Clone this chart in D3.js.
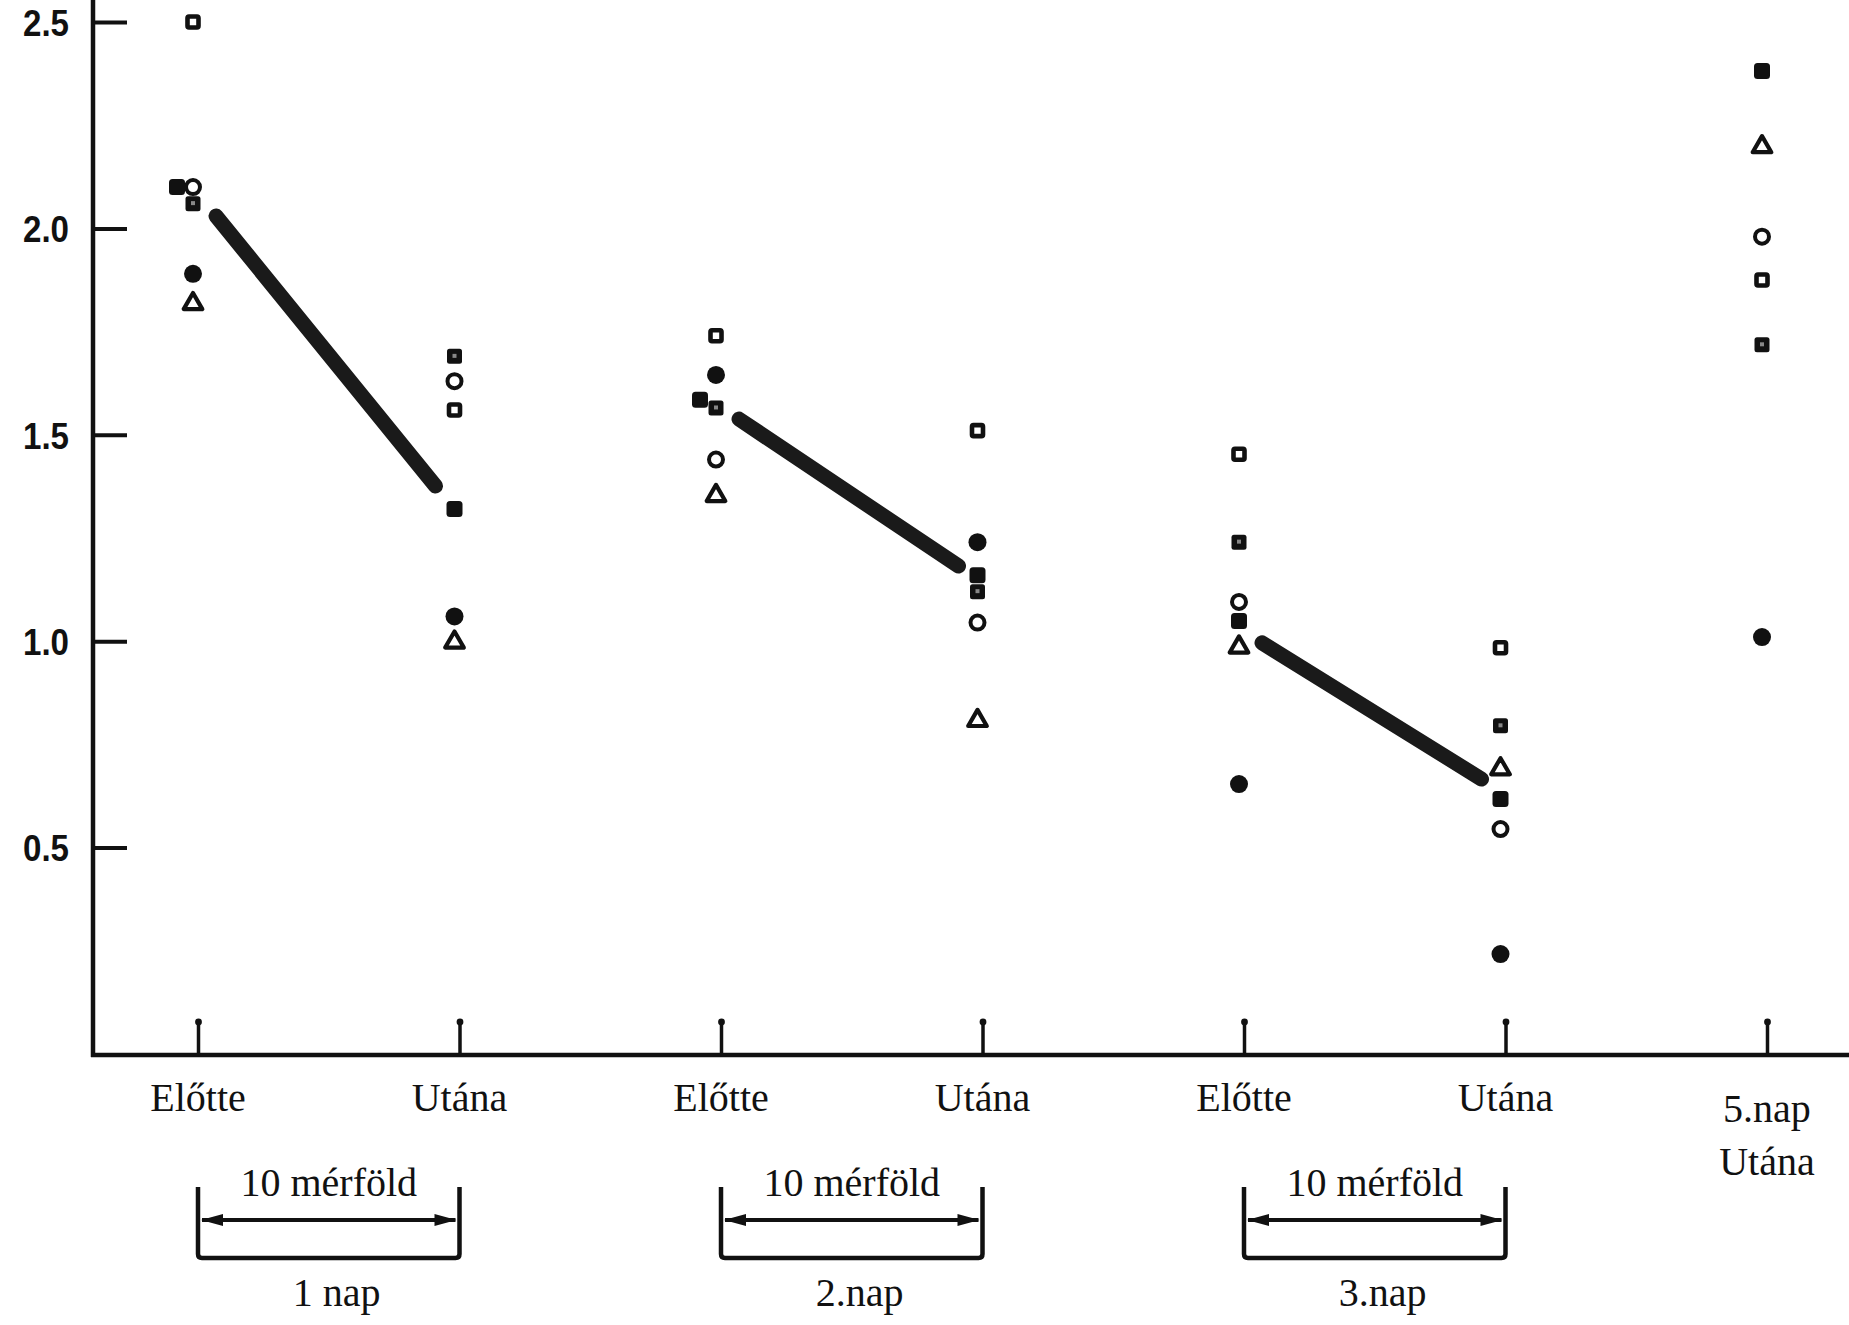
<!DOCTYPE html>
<html lang="hu">
<head>
  <meta charset="UTF-8">
  <title>Előtte / Utána – 10 mérföld</title>
  <style>
    body { margin: 0; background: #fff; }
    svg { display: block; }
    .ylab { font-family: 'Liberation Sans', Arial, sans-serif; font-weight: bold; font-size: 37px; fill: #111; }
    .xlab { font-family: 'Liberation Serif', 'Times New Roman', serif; font-size: 40px; fill: #111; }
  </style>
  <script src="https://d3js.org/d3.v7.min.js"></script>
</head>
<body>
  <svg></svg>
  <script>
    const width = 1849, height = 1325;

    // x categories and their labels
    const categories = ["pre1", "post1", "pre2", "post2", "pre3", "post3", "day5"];
    const tickLabels = [["Előtte"], ["Utána"], ["Előtte"], ["Utána"], ["Előtte"], ["Utána"], ["5.nap", "Utána"]];
    const yTicks = [0.5, 1.0, 1.5, 2.0, 2.5];

    // one array per subject (symbol), one value per category
    const filledCircle = [1.89, 1.06, 1.645, 1.24, 0.654, 0.242, 1.01];
    const openCircle   = [2.10, 1.63, 1.44, 1.045, 1.095, 0.545, 1.98];
    const openTriangle = [1.82, 1.00, 1.355, 0.81, 0.988, 0.693, 2.20];
    const openSquare   = [2.50, 1.56, 1.74, 1.51, 1.453, 0.984, 1.875];
    const dottedSquare = [2.06, 1.69, 1.565, 1.12, 1.24, 0.795, 1.718];
    const filledSquare = [2.10, 1.32, 1.585, 1.16, 1.049, 0.618, 2.381];

    // thick trend lines (before -> after) for each day
    const linePairs = [["pre1", "post1"], ["pre2", "post2"], ["pre3", "post3"]];
    const lineFrom = [2.03, 1.538, 0.996];
    const lineTo   = [1.376, 1.182, 0.666];

    // brackets under the axis
    const distanceLabel = "10 mérföld";
    const dayLabels = ["1 nap", "2.nap", "3.nap"];

    const series = [
      { kind: "filledCircle", values: filledCircle },
      { kind: "openCircle", values: openCircle },
      { kind: "openTriangle", values: openTriangle },
      { kind: "openSquare", values: openSquare },
      { kind: "dottedSquare", values: dottedSquare },
      { kind: "filledSquare", values: filledSquare }
    ];

    const ink = "#111";
    const svg = d3.select("svg").attr("width", width).attr("height", height);
    svg.append("rect").attr("width", width).attr("height", height).attr("fill", "#fff");

    const axisX = 93, axisY = 1055;
    const x = d3.scalePoint().domain(categories).range([198, 1767]);
    const y = d3.scaleLinear().domain([0, 2.5]).range([1054, 22]);

    // y axis
    const yAxis = svg.append("g")
      .attr("transform", `translate(${axisX},0)`)
      .call(d3.axisLeft(y).tickValues(yTicks).tickSize(-34).tickPadding(24).tickFormat(d3.format(".1f")));
    yAxis.select(".domain").remove();
    yAxis.selectAll(".tick line").attr("stroke", ink).attr("stroke-width", 4);
    yAxis.selectAll(".tick text").attr("class", "ylab").attr("dy", "0.36em")
      .attr("textLength", 46).attr("lengthAdjust", "spacingAndGlyphs");
    svg.append("line").attr("x1", axisX).attr("x2", axisX).attr("y1", 0).attr("y2", axisY + 2)
      .attr("stroke", ink).attr("stroke-width", 4.5);

    // x axis
    const xAxis = svg.append("g")
      .attr("transform", `translate(0,${axisY})`)
      .call(d3.axisBottom(x).tickSize(-33).tickFormat(""));
    xAxis.select(".domain").remove();
    xAxis.selectAll(".tick line").attr("stroke", ink).attr("stroke-width", 3.5);
    xAxis.selectAll(".tick").append("circle").attr("cy", -33).attr("r", 3.4).attr("fill", ink);
    svg.append("line").attr("x1", axisX - 2).attr("x2", width).attr("y1", axisY).attr("y2", axisY)
      .attr("stroke", ink).attr("stroke-width", 4.5);

    // category labels
    categories.forEach((c, i) => {
      const t = svg.append("text").attr("class", "xlab").attr("text-anchor", "middle")
        .attr("x", x(c)).attr("y", tickLabels[i].length > 1 ? 1122 : 1111);
      tickLabels[i].forEach((s, j) => {
        t.append("tspan").attr("x", x(c)).attr("dy", j === 0 ? 0 : 53).text(s);
      });
    });

    // mean lines
    svg.append("g").selectAll("line")
      .data(linePairs)
      .join("line")
      .attr("x1", d => x(d[0]) + 18)
      .attr("y1", (d, i) => y(lineFrom[i]))
      .attr("x2", d => x(d[1]) - 24)
      .attr("y2", (d, i) => y(lineTo[i]))
      .attr("stroke", "#1a1a1a")
      .attr("stroke-width", 15)
      .attr("stroke-linecap", "round");

    // points, shifting a marker left when it would sit on top of another one
    const points = [];
    series.forEach((s, si) => s.values.forEach((v, ci) => {
      points.push({ kind: s.kind, si, cat: categories[ci], value: v, dx: -5 });
    }));
    points.forEach(p => {
      const clash = points.some(q => q !== p && q.cat === p.cat && q.si < p.si &&
        Math.abs(y(q.value) - y(p.value)) < 10);
      if (clash) p.dx -= 16;
    });

    const triangle = d3.symbol().type(d3.symbolTriangle).size(150);
    const marks = svg.append("g").selectAll("g")
      .data(points)
      .join("g")
      .attr("transform", d => `translate(${x(d.cat) + d.dx},${y(d.value)})`);

    marks.each(function(d) {
      const g = d3.select(this);
      if (d.kind === "filledCircle") {
        g.append("circle").attr("r", 9).attr("fill", ink);
      } else if (d.kind === "openCircle") {
        g.append("circle").attr("r", 7).attr("fill", "#fff").attr("stroke", ink).attr("stroke-width", 4);
      } else if (d.kind === "openTriangle") {
        g.append("path").attr("d", triangle).attr("transform", "translate(0,1)")
          .attr("fill", "#fff").attr("stroke", ink).attr("stroke-width", 4.2).attr("stroke-linejoin", "round");
      } else if (d.kind === "openSquare") {
        g.append("rect").attr("x", -5.5).attr("y", -5.5).attr("width", 11).attr("height", 11)
          .attr("fill", "#fff").attr("stroke", ink).attr("stroke-width", 4.6).attr("rx", 1.5);
      } else if (d.kind === "dottedSquare") {
        g.append("rect").attr("x", -7.5).attr("y", -7.5).attr("width", 15).attr("height", 15)
          .attr("fill", ink).attr("rx", 2.5);
        g.append("rect").attr("x", -2).attr("y", -2.5).attr("width", 4).attr("height", 4).attr("fill", "#888");
      } else {
        g.append("rect").attr("x", -8).attr("y", -8).attr("width", 16).attr("height", 16)
          .attr("fill", ink).attr("rx", 3.5);
      }
    });

    // brackets: "10 mérföld" arrows and day labels
    const brTop = 1187, brArrow = 1220, brBottom = 1258;
    const br = svg.append("g").selectAll("g")
      .data(linePairs)
      .join("g");

    br.append("path")
      .attr("d", d => {
        const a = x(d[0]), b = x(d[1]);
        return `M${a},${brTop} V${brBottom - 4} Q${a},${brBottom} ${a + 4},${brBottom} H${b - 4} Q${b},${brBottom} ${b},${brBottom - 4} V${brTop}`;
      })
      .attr("fill", "none").attr("stroke", ink).attr("stroke-width", 4.5);

    br.append("line")
      .attr("x1", d => x(d[0]) + 4).attr("x2", d => x(d[1]) - 4)
      .attr("y1", brArrow).attr("y2", brArrow)
      .attr("stroke", ink).attr("stroke-width", 4);

    br.append("path")
      .attr("d", d => {
        const a = x(d[0]) + 3, b = x(d[1]) - 3;
        return `M${a},${brArrow} L${a + 22},${brArrow - 6} L${a + 22},${brArrow + 6} Z` +
               `M${b},${brArrow} L${b - 22},${brArrow - 6} L${b - 22},${brArrow + 6} Z`;
      })
      .attr("fill", ink);

    br.append("text").attr("class", "xlab").attr("text-anchor", "middle")
      .attr("x", d => (x(d[0]) + x(d[1])) / 2).attr("y", 1196)
      .text(distanceLabel);

    br.append("text").attr("class", "xlab").attr("text-anchor", "middle")
      .attr("x", d => (x(d[0]) + x(d[1])) / 2 + 8).attr("y", 1306)
      .text((d, i) => dayLabels[i]);
  </script>
</body>
</html>
